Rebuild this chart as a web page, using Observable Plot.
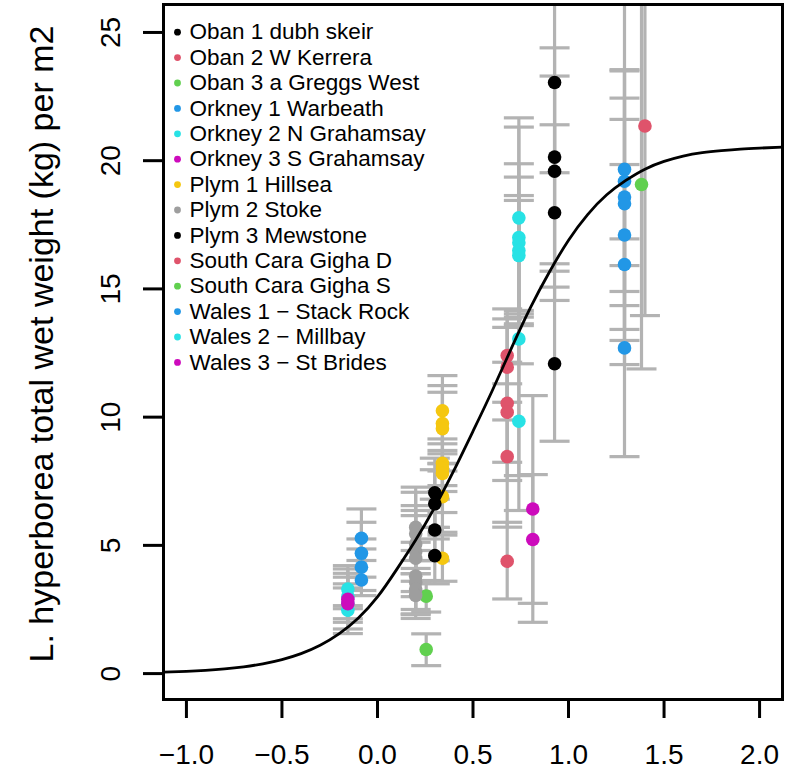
<!DOCTYPE html>
<html><head><meta charset="utf-8">
<script src="https://cdn.jsdelivr.net/npm/d3@7"></script>
<script src="https://cdn.jsdelivr.net/npm/@observablehq/plot@0.6"></script>
<style>
body{margin:0;background:#fff}
svg{font-family:"Liberation Sans",Arial,Helvetica,sans-serif}
</style>
</head><body><div id="chart"></div>
<script>
const sites = ["Oban 1 dubh skeir","Oban 2 W Kerrera","Oban 3 a Greggs West","Orkney 1 Warbeath","Orkney 2 N Grahamsay","Orkney 3 S Grahamsay","Plym 1 Hillsea","Plym 2 Stoke","Plym 3 Mewstone","South Cara Gigha D","South Cara Gigha S","Wales 1 \u2212 Stack Rock","Wales 2 \u2212 Millbay","Wales 3 \u2212 St Brides"];
const siteColors = ["#000000","#DF536B","#61D04F","#2297E6","#28E2E5","#CD0BBC","#F5C710","#9E9E9E","#000000","#DF536B","#61D04F","#2297E6","#28E2E5","#CD0BBC"];
const siteX = [0.927, 0.679, 0.255, 1.293, 0.74, 0.813, 0.34, 0.2, 0.3, 1.4, 1.382, -0.084, -0.155, -0.155];
const siteY = [
  [23.05, 20.14, 19.59, 17.97, 12.08],
  [12.4, 11.95, 10.54, 10.19, 8.46, 4.38],
  [3.02, 0.94],
  [19.66, 19.2, 18.58, 18.32, 17.1, 15.95, 12.7],
  [17.77, 17.0, 16.8, 16.5, 16.3, 13.05, 9.84],
  [6.42, 5.23],
  [10.25, 9.75, 9.55, 8.2, 8.0, 7.8, 6.9, 4.5],
  [5.7, 5.45, 5.05, 4.75, 4.5, 3.8, 3.55, 3.3, 3.05],
  [7.05, 6.62, 5.6, 4.6],
  [21.35],
  [19.07],
  [5.28, 4.69, 4.15, 3.65],
  [3.3, 3.0, 2.75, 2.47],
  [2.9, 2.73]
];
const siteLo = [
  [19.53, 15.98, 15.69, 14.55, 9.06],
  [10.58, 9.89, 7.53, 8.24, 5.71, 2.91],
  [2.4, 0.31],
  [15.91, 14.9, 13.42, 14.35, 12.99, 12.05, 8.46],
  [13.9, 14.16, 12.08, 13.64, 14.03, 7.72, 6.36],
  [2.0, 2.74],
  [8.96, 8.18, 7.9, 7.33, 7.1, 6.28, 5.51, 3.6],
  [4.1, 3.9, 3.6, 3.2, 3.0, 2.5, 2.3, 2.15, 2.33],
  [5.7, 5.25, 4.4, 3.5],
  [13.96],
  [11.88],
  [4.41, 3.76, 3.04, 3.24],
  [2.53, 2.14, 1.74, 1.56],
  [2.0, 2.65]
];
const siteHi = [
  [26.9, 24.4, 23.3, 21.4, 15.07],
  [14.22, 13.83, 13.5, 12.14, 11.3, 5.9],
  [3.63, 1.55],
  [27.5, 23.5, 23.55, 22.44, 21.61, 19.85, 16.95],
  [21.67, 19.88, 21.31, 19.36, 18.64, 18.45, 13.57],
  [10.84, 7.76],
  [11.62, 11.23, 10.97, 9.15, 8.7, 8.57, 8.2, 5.4],
  [7.27, 7.07, 6.55, 6.36, 6.16, 5.12, 4.8, 4.41, 3.89],
  [8.4, 7.95, 6.8, 5.7],
  [28.7],
  [26.3],
  [6.42, 5.9, 5.25, 4.86],
  [4.08, 3.91, 3.76, 3.5],
  [4.21, 3.34]
];
const curveX = [-1.12,-1.0,-0.9,-0.8,-0.7,-0.6,-0.5,-0.4,-0.3,-0.2,-0.1,0.0,0.1,0.2,0.3,0.4,0.5,0.6,0.7,0.8,0.9,1.0,1.1,1.2,1.3,1.4,1.5,1.6,1.7,1.8,1.9,2.0,2.12];
const curveY = [0.058,0.09,0.129,0.185,0.266,0.382,0.546,0.778,1.105,1.556,2.171,2.99,4.055,5.21,6.49,7.92,9.45,11.02,12.67,14.26,15.66,16.9,17.9,18.67,19.23,19.67,19.97,20.18,20.31,20.39,20.45,20.49,20.53];
const xTicks = [-1.0,-0.5,0.0,0.5,1.0,1.5,2.0];
const xTickLabels = ["\u22121.0","\u22120.5","0.0","0.5","1.0","1.5","2.0"];
const yTicks = [0,5,10,15,20,25];
const yTickLabels = ["0","5","10","15","20","25"];
const yLabel = "L. hyperborea total wet weight (kg) per m2";

const rows = [];
sites.forEach((s, i) => {
  siteY[i].forEach((v, j) => rows.push({site: s, color: siteColors[i], x: siteX[i], y: v, lo: siteLo[i][j], hi: siteHi[i][j]}));
});
const caps = rows.flatMap(d => [{x: d.x, y: d.lo}, {x: d.x, y: d.hi}]);
const curve = curveX.map((x, i) => ({x, y: curveY[i]}));
const capSymbol = {draw(ctx) { ctx.moveTo(-15, 0); ctx.lineTo(15, 0); }};
const barColor = "#B3B3B3";

const legendMarks = [];
sites.forEach((s, i) => {
  legendMarks.push(Plot.dot([{}], {x: null, y: null, frameAnchor: "top-left", dx: 14, dy: 27.7 + 25.4 * i, r: 3.4, fill: siteColors[i], stroke: "none"}));
  legendMarks.push(Plot.text([{}], {x: null, y: null, text: () => s, frameAnchor: "top-left", dx: 26, dy: 27.7 + 25.4 * i, textAnchor: "start", lineAnchor: "middle", fontSize: 22.5, fill: "black"}));
});

const chart = Plot.plot({
  width: 805, height: 770,
  marginLeft: 163, marginRight: 23, marginTop: 4, marginBottom: 71,
  x: {domain: [-1.12, 2.12]},
  y: {domain: [-1.01, 26.09]},
  color: {type: "identity"},
  style: {fontFamily: "Liberation Sans, Arial, sans-serif", background: "white"},
  marks: [
    Plot.ruleX(rows, {x: "x", y1: "lo", y2: "hi", stroke: barColor, strokeWidth: 3.2, clip: true}),
    Plot.dot(caps, {x: "x", y: "y", symbol: capSymbol, r: 5, stroke: barColor, strokeWidth: 3.2, fill: "none", clip: true}),
    Plot.dot(rows, {x: "x", y: "y", r: 6.8, fill: "color", stroke: "none"}),
    Plot.line(curve, {x: "x", y: "y", curve: "natural", stroke: "black", strokeWidth: 2.8}),
    ...legendMarks,
    Plot.frame({stroke: "black", strokeWidth: 3}),
    Plot.axisX(xTicks, {tickSize: 19, tickPadding: 26, strokeWidth: 3, fontSize: 28, fill: "black", tickFormat: d => xTickLabels[xTicks.indexOf(d)], label: null}),
    Plot.axisY(yTicks, {tickSize: 20, strokeWidth: 3, tickFormat: () => "", label: null}),
    Plot.text(yTicks, {y: d => d, text: d => yTickLabels[yTicks.indexOf(d)], frameAnchor: "left", dx: -44, rotate: -90, textAnchor: "middle", lineAnchor: "bottom", fontSize: 28, fill: "black"}),
    Plot.text([{}], {x: null, y: null, text: () => yLabel, frameAnchor: "left", dx: -121, dy: -8, rotate: -90, textAnchor: "middle", lineAnchor: "middle", fontSize: 34, fill: "black"})
  ]
});
document.getElementById("chart").appendChild(chart);
</script>
</body></html>
